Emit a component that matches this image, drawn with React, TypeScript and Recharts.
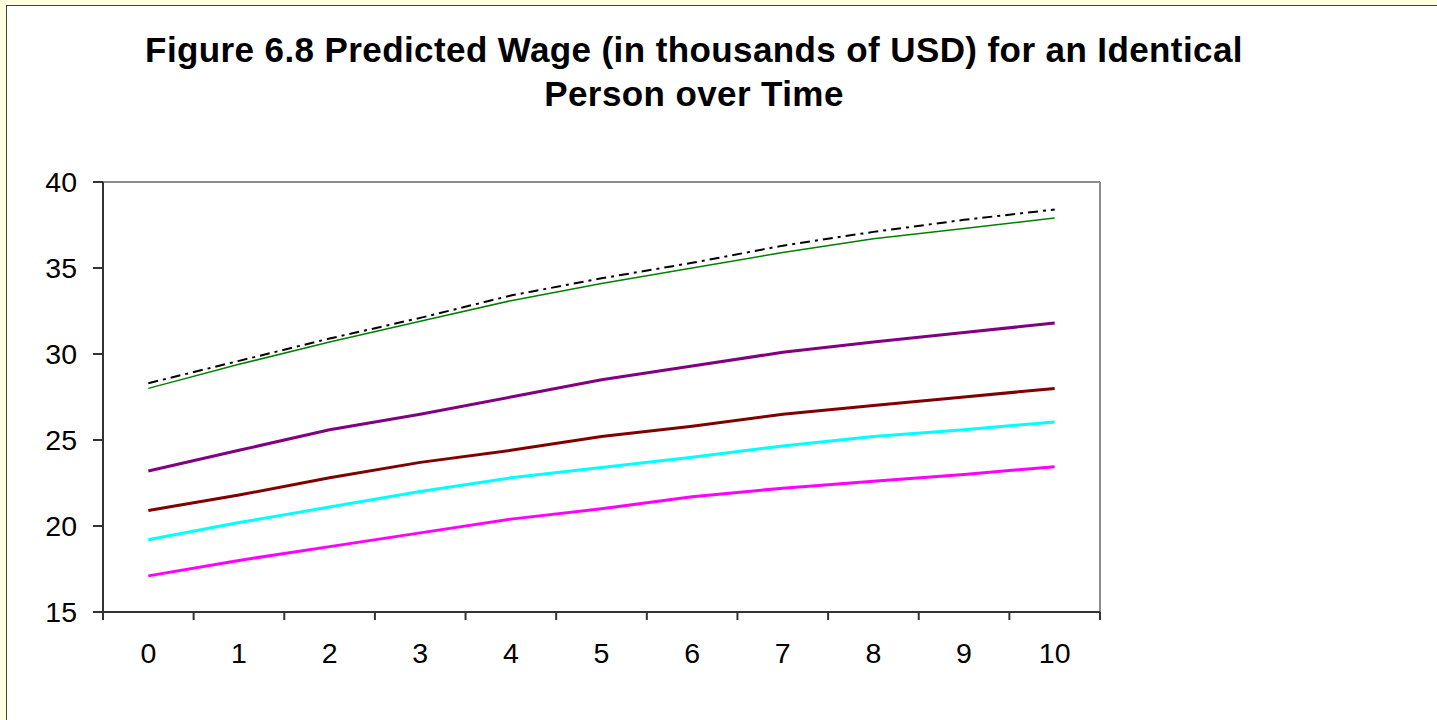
import React from 'react'
import { LineChart, Line, XAxis, YAxis, ReferenceLine } from 'recharts'

// years since start (category labels on the x axis)
const years = [0, 1, 2, 3, 4, 5, 6, 7, 8, 9, 10]
const yTicks = [15, 20, 25, 30, 35, 40]

// predicted wage series, thousands of USD
const blackDash = [28.3, 29.6, 30.9, 32.1, 33.4, 34.4, 35.3, 36.3, 37.1, 37.8, 38.4]
const green = [28.0, 29.4, 30.7, 31.9, 33.1, 34.1, 35.0, 35.9, 36.7, 37.3, 37.9]
const purple = [23.2, 24.4, 25.6, 26.5, 27.5, 28.5, 29.3, 30.1, 30.7, 31.25, 31.8]
const darkRed = [20.9, 21.8, 22.8, 23.7, 24.4, 25.2, 25.8, 26.5, 27.0, 27.5, 28.0]
const cyan = [19.2, 20.2, 21.1, 22.0, 22.8, 23.4, 24.0, 24.65, 25.2, 25.6, 26.05]
const magenta = [17.1, 18.0, 18.8, 19.6, 20.4, 21.0, 21.7, 22.2, 22.6, 23.0, 23.45]

const data = years.map((t, i) => ({
  t,
  blackDash: blackDash[i],
  green: green[i],
  purple: purple[i],
  darkRed: darkRed[i],
  cyan: cyan[i],
  magenta: magenta[i],
}))

// tick marks sit between the categories
const boundaryTicks = [...years.map((y) => y - 0.5), years[years.length - 1] + 0.5]

const W = 1437
const H = 720
const MARGIN = { top: 182, right: 337, bottom: 48, left: 0 }
const Y_AXIS_W = 103
const PLOT_W = W - MARGIN.left - MARGIN.right - Y_AXIS_W
const HALF_BAND = PLOT_W / years.length / 2

const FONT = '"Liberation Sans", Arial, sans-serif'
const TICK_FONT = 28.5

const XTick = (props: any) => {
  const { x, y, index } = props
  if (index >= years.length) return null
  return (
    <text x={x + HALF_BAND} y={y} dy="0.71em" textAnchor="middle" fontSize={TICK_FONT} fill="#000" fontFamily={FONT}>
      {String(years[index])}
    </text>
  )
}

export default function App() {
  return (
    <div style={{ position: 'absolute', left: 0, top: 0, width: W, height: H, background: '#FFFFE0', overflow: 'hidden' }}>
      <div style={{ position: 'absolute', left: 6, top: 5, width: W, height: H, background: '#fff', border: '1px solid #404040', boxSizing: 'border-box' }} />
      <div
        style={{
          position: 'absolute',
          left: 0,
          top: 28,
          width: 1388,
          textAlign: 'center',
          fontFamily: FONT,
          fontWeight: 'bold',
          fontSize: 35,
          letterSpacing: 0.4,
          lineHeight: '44px',
          color: '#000',
        }}
      >
        Figure 6.8 Predicted Wage (in thousands of USD) for an Identical
        <br />
        Person over Time
      </div>
      <div style={{ position: 'absolute', left: 0, top: 0 }}>
        <LineChart width={W} height={H} data={data} margin={MARGIN}>
          <XAxis
            dataKey="t"
            type="number"
            domain={[-0.5, 10.5]}
            ticks={boundaryTicks}
            interval={0}
            height={60}
            stroke="#333"
            strokeWidth={2}
            tickSize={8}
            tickMargin={23}
            tick={<XTick />}
          />
          <YAxis
            domain={[15, 40]}
            ticks={yTicks}
            interval={0}
            width={Y_AXIS_W}
            stroke="#333"
            strokeWidth={2}
            tickSize={10}
            tickMargin={16}
            tick={{ fontSize: TICK_FONT, fill: '#000', fontFamily: FONT }}
          />
          <ReferenceLine y={40} stroke="#8c8c8c" strokeWidth={2} />
          <ReferenceLine x={10.5} stroke="#8c8c8c" strokeWidth={2} />
          <Line dataKey="magenta" stroke="#FF00FF" strokeWidth={3} dot={false} isAnimationActive={false} />
          <Line dataKey="cyan" stroke="#00FFFF" strokeWidth={3} dot={false} isAnimationActive={false} />
          <Line dataKey="darkRed" stroke="#800000" strokeWidth={3} dot={false} isAnimationActive={false} />
          <Line dataKey="purple" stroke="#800080" strokeWidth={3} dot={false} isAnimationActive={false} />
          <Line dataKey="green" stroke="#008000" strokeWidth={1.5} dot={false} isAnimationActive={false} />
          <Line dataKey="blackDash" stroke="#000" strokeWidth={2} strokeDasharray="10 5 3 5" dot={false} isAnimationActive={false} />
        </LineChart>
      </div>
    </div>
  )
}
